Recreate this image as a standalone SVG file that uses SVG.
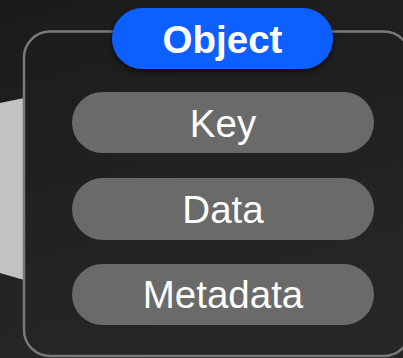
<svg xmlns="http://www.w3.org/2000/svg" width="403" height="358" viewBox="0 0 403 358">
  <defs>
    <linearGradient id="bg" x1="0" y1="0" x2="0.3" y2="1">
      <stop offset="0" stop-color="#1b1b1b"/>
      <stop offset="1" stop-color="#262626"/>
    </linearGradient>
    <filter id="shadow" x="-20%" y="-30%" width="140%" height="180%">
      <feDropShadow dx="0" dy="3" stdDeviation="3" flood-color="#000" flood-opacity="0.6"/>
    </filter>
    <style>
      .pill { fill: #6a6a6a; }
      .label { font-family: "Liberation Sans", Arial, sans-serif; font-size: 38.5px; fill: #ffffff; text-anchor: middle; }
      .title { font-family: "Liberation Sans", Arial, sans-serif; font-size: 38.5px; font-weight: bold; fill: #ffffff; text-anchor: middle; }
    </style>
  </defs>
  <rect x="0" y="0" width="403" height="358" fill="url(#bg)"/>
  <g id="connectors">
    <polygon points="0,103 24,98 24,280 0,273" fill="#c2c2c2"/>
  </g>
  <g id="container">
    <rect x="24" y="31.5" width="386" height="324.5" rx="26" ry="26" fill="none" stroke="#7a7a7a" stroke-width="2.5"/>
  </g>
  <g id="object">
    <rect x="112" y="8" width="221" height="61" rx="30.5" ry="30.5" fill="#0d5fff" filter="url(#shadow)"/>
    <text class="title" x="222.5" y="52.5">Object</text>
  </g>
  <g id="key">
    <rect class="pill" x="72" y="92" width="302" height="61" rx="30.5" ry="30.5"/>
    <text class="label" x="223" y="137">Key</text>
  </g>
  <g id="data">
    <rect class="pill" x="72" y="178" width="302" height="62" rx="31" ry="31"/>
    <text class="label" x="223" y="223">Data</text>
  </g>
  <g id="metadata">
    <rect class="pill" x="72" y="264" width="302" height="61" rx="30.5" ry="30.5"/>
    <text class="label" x="223" y="308">Metadata</text>
  </g>
</svg>
